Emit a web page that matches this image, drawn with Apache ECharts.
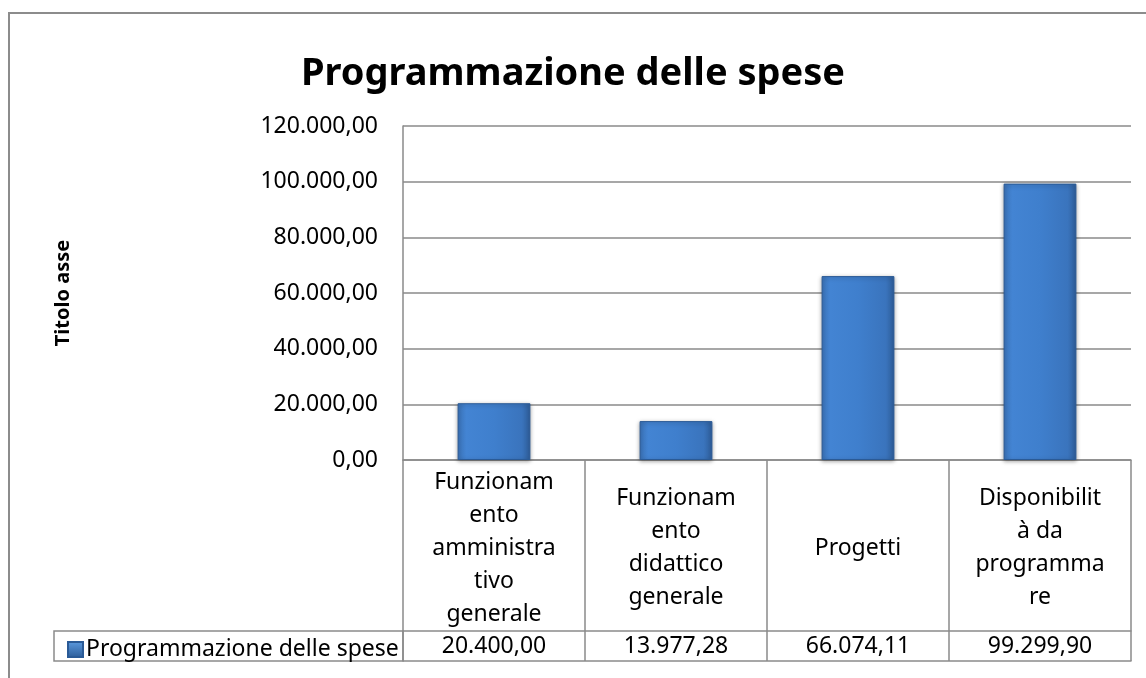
<!DOCTYPE html>
<html>
<head>
<meta charset="utf-8">
<script src="https://cdn.jsdelivr.net/npm/echarts@6/dist/echarts.min.js"></script>
<style>
html,body{margin:0;padding:0;background:#fff;}
#chart{width:1146px;height:678px;}
</style>
</head>
<body>
<div id="chart"></div>
<script>
const chartTitle = 'Programmazione delle spese';
const seriesName = 'Programmazione delle spese';
const yAxisTitle = 'Titolo asse';
const categories = ['Funzionamento amministrativo generale', 'Funzionamento didattico generale', 'Progetti', 'Disponibilità da programmare'];
const categoryLabels = ['Funzionam\nento\namministra\ntivo\ngenerale', 'Funzionam\nento\ndidattico\ngenerale', 'Progetti', 'Disponibilit\nà da\nprogramma\nre'];
const values = [20400.00, 13977.28, 66074.11, 99299.90];
const yMin = 0, yMax = 120000, yStep = 20000;

function fmtIt(v) {
  const neg = v < 0; v = Math.abs(v);
  const fixed = v.toFixed(2);
  let [intPart, dec] = fixed.split('.');
  intPart = intPart.replace(/\B(?=(\d{3})+(?!\d))/g, '.');
  return (neg ? '-' : '') + intPart + ',' + dec;
}

const FONT = '"Noto Sans", "Open Sans", sans-serif';
const LINE = '#8a8a8a';
const chart = echarts.init(document.getElementById('chart'));
const barGrad = new echarts.graphic.LinearGradient(0, 0, 1, 0, [
  {offset: 0, color: '#3b73b8'},
  {offset: 0.12, color: '#4384d3'},
  {offset: 0.5, color: '#3f7fcd'},
  {offset: 0.88, color: '#3a74bd'},
  {offset: 1, color: '#2f5f9c'}
]);
const legendGrad = new echarts.graphic.LinearGradient(0, 0, 0, 1, [
  {offset: 0, color: '#5c9be0'},
  {offset: 1, color: '#2c5c98'}
]);

chart.setOption({
  animation: false,
  backgroundColor: '#ffffff',
  title: {
    text: chartTitle,
    left: 'center',
    top: 50,
    textStyle: {fontFamily: FONT, fontWeight: 'bold', fontSize: 38, color: '#000'}
  },
  grid: {left: 403, right: 15, top: 126, bottom: 218, containLabel: false},
  xAxis: [
    {
      type: 'category',
      data: categories,
      position: 'bottom',
      axisLine: {show: true, lineStyle: {color: LINE, width: 1.5}},
      axisTick: {show: true, alignWithLabel: false, length: 201, lineStyle: {color: LINE, width: 1.5}},
      axisLabel: {
        interval: 0,
        margin: 88,
        verticalAlign: 'middle',
        lineHeight: 33,
        fontFamily: FONT, fontSize: 23, color: '#000',
        formatter: (v, i) => categoryLabels[i]
      },
      splitLine: {show: false}
    },
    {
      type: 'category',
      data: categories,
      position: 'bottom',
      offset: 171,
      axisLine: {show: true, lineStyle: {color: LINE, width: 1.5}},
      axisTick: {show: false},
      axisLabel: {
        interval: 0,
        margin: 15,
        verticalAlign: 'middle',
        fontFamily: FONT, fontSize: 23, color: '#000',
        formatter: (v, i) => fmtIt(values[i])
      }
    },
    {
      type: 'category',
      data: categories,
      position: 'bottom',
      offset: 201,
      axisLine: {show: true, lineStyle: {color: LINE, width: 1.5}},
      axisTick: {show: false},
      axisLabel: {show: false}
    }
  ],
  yAxis: {
    type: 'value',
    min: yMin, max: yMax, interval: yStep,
    name: yAxisTitle,
    nameLocation: 'middle',
    nameGap: 330,
    nameTextStyle: {fontFamily: FONT, fontWeight: 'bold', fontSize: 20, color: '#000'},
    axisLine: {show: true, lineStyle: {color: LINE, width: 1.5}},
    axisTick: {show: false},
    axisLabel: {margin: 25, fontFamily: FONT, fontSize: 23, color: '#000', formatter: v => fmtIt(v)},
    splitLine: {show: true, lineStyle: {color: LINE, width: 1.5}}
  },
  legend: {
    show: true,
    left: 62, top: 633,
    itemWidth: 15, itemHeight: 15,
    itemGap: 0,
    textStyle: {fontFamily: FONT, fontSize: 23, color: '#000', padding: [0, 0, 0, -2]},
    data: [{name: seriesName, icon: 'rect', itemStyle: {color: legendGrad}}]
  },
  graphic: [
    {type: 'rect', shape: {x: 9, y: 13, width: 1200, height: 720}, style: {fill: 'none', stroke: '#8c8c8c', lineWidth: 2}, silent: true, z: -1},
    {type: 'rect', shape: {x: 54, y: 631, width: 349, height: 30}, style: {fill: 'none', stroke: LINE, lineWidth: 1.5}, silent: true}
  ],
  series: [{
    name: seriesName,
    type: 'bar',
    xAxisIndex: 0,
    data: values,
    barWidth: '40%',
    itemStyle: {
      color: barGrad,
      borderColor: '#2a5a96',
      borderWidth: 1,
      shadowColor: 'rgba(0,0,0,0.35)',
      shadowBlur: 4,
      shadowOffsetY: 1
    }
  }]
});
</script>
</body>
</html>
